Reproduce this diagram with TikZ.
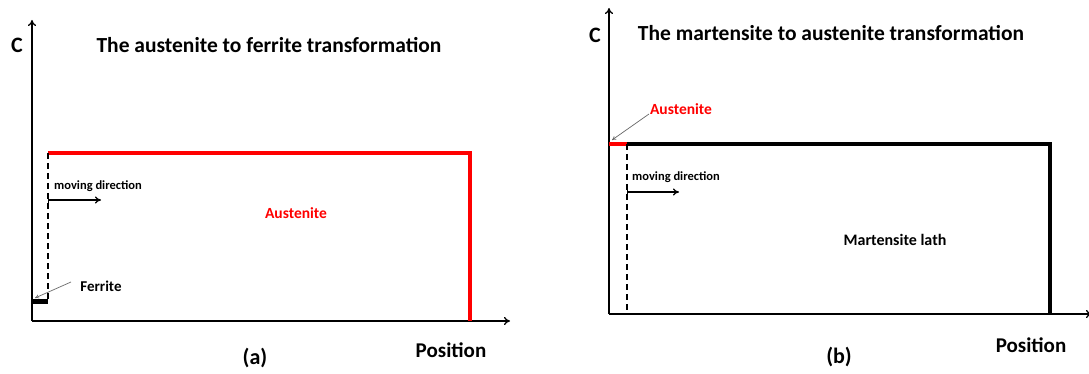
\documentclass[tikz,border=0pt]{standalone}
\usepackage{fontspec}
\setmainfont{Carlito}
\usetikzlibrary{arrows.meta}
\tikzset{
  axis/.style={line width=1.3pt, -{To[length=6pt,width=8pt]}},
  phase/.style={line width=4pt},
  front/.style={line width=1.4pt, dash pattern=on 6pt off 4pt},
  pointer/.style={gray!80!black, line width=0.7pt, -{To[length=4pt,width=4pt]}},
  lbl/.style={font=\bfseries, inner sep=0pt},
}
\begin{document}
\begin{tikzpicture}[x=1pt, y=-1pt]
    \useasboundingbox (0,0) rectangle (1089,374);

    % (a) austenite to ferrite
    \draw[axis] (32,321) -- (32,20);
    \draw[axis] (32,321) -- (510,321);
    \draw[phase, red] (48,153) -- (470,153) -- (470,321);
    \draw[front] (48,153) -- (48,302);
    \fill (32,299) rectangle (48,304);
    \coordinate (ferr) at (35,298);
    \draw[line width=1.2pt, {Bar[width=6pt]}-{To[length=6pt,width=7pt]}] (48,200) -- (101,200);
    \node[lbl, font=\bfseries\fontsize{21.5}{21.5}\selectfont] (ttla) at (269,45) {The austenite to ferrite transformation};
    \node[lbl, font=\bfseries\fontsize{22}{22}\selectfont] (ca) at (17,45) {C};
    \node[lbl, font=\bfseries\fontsize{12.5}{12.5}\selectfont, anchor=west] (mova) at (54,186) {moving direction};
    \node[lbl, red, font=\bfseries\fontsize{15.5}{15.5}\selectfont] (aust) at (296,213) {Austenite};
    \node[lbl, font=\bfseries\fontsize{15}{15}\selectfont] (ferrite) at (101,286) {Ferrite};
    \node[lbl, font=\bfseries\fontsize{22}{22}\selectfont] (suba) at (255,358) {(a)};
    \node[lbl, font=\bfseries\fontsize{21}{21}\selectfont] (posa) at (451,350) {Position};
    \draw[pointer] (71,282) -- (ferr);

    % (b) martensite to austenite
    \draw[axis] (609,314) -- (609,8);
    \draw[axis] (609,314) -- (1092,314);
    \draw[phase] (627,144) -- (1050,144) -- (1050,314);
    \draw[phase, red] (609,144) -- (627,144);
    \draw[front] (627,144) -- (627,314);
    \coordinate (revt) at (612,140);
    \draw[line width=1.2pt, {Bar[width=6pt]}-{To[length=6pt,width=7pt]}] (627,192) -- (679,192);
    \node[lbl, font=\bfseries\fontsize{21.5}{21.5}\selectfont] (ttlb) at (831,33) {The martensite to austenite transformation};
    \node[lbl, font=\bfseries\fontsize{22}{22}\selectfont] (cb) at (595,35) {C};
    \node[lbl, font=\bfseries\fontsize{12.5}{12.5}\selectfont, anchor=west] (movb) at (632,177) {moving direction};
    \node[lbl, red, font=\bfseries\fontsize{15.5}{15.5}\selectfont] (rev) at (681,109) {Austenite};
    \node[lbl, font=\bfseries\fontsize{16}{16}\selectfont] (lath) at (895,240) {Martensite lath};
    \node[lbl, font=\bfseries\fontsize{22}{22}\selectfont] (subb) at (839,357) {(b)};
    \node[lbl, font=\bfseries\fontsize{21}{21}\selectfont] (posb) at (1031,345) {Position};
    \draw[pointer] (649,114) -- (revt);
\end{tikzpicture}
\end{document}
